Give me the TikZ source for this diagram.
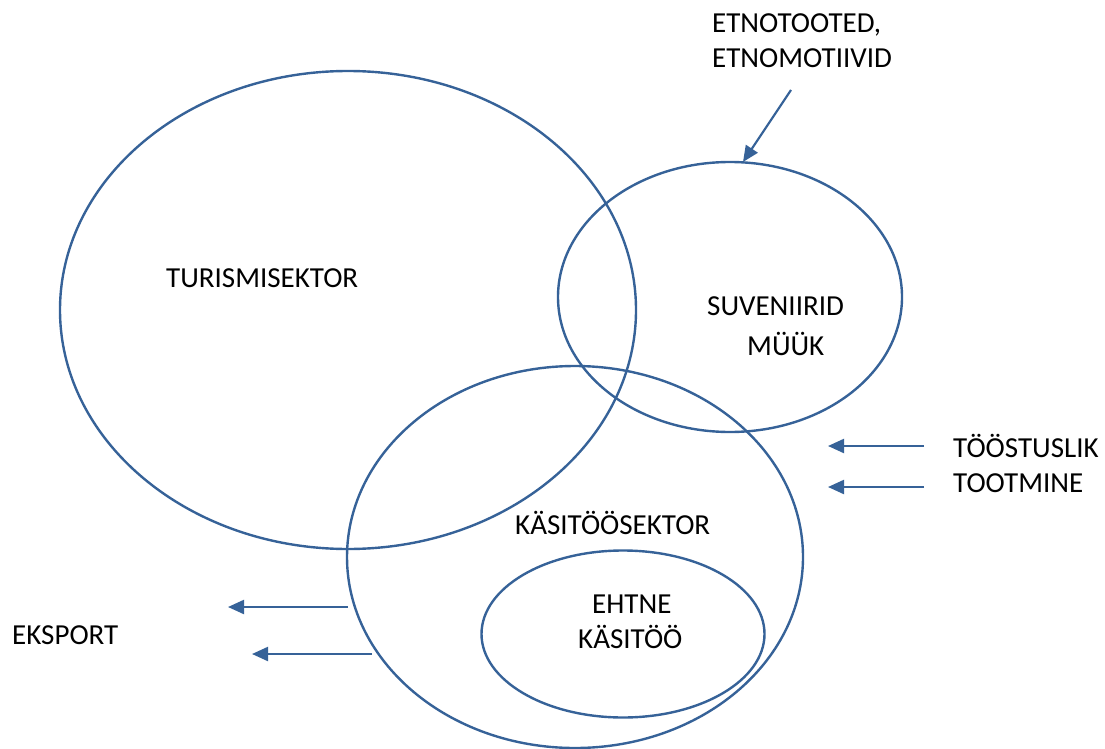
\documentclass[tikz,border=0pt]{standalone}
\usepackage{fontspec}
\setmainfont{Carlito}
\usetikzlibrary{shapes.geometric,arrows.meta}
\definecolor{lineblue}{RGB}{54,98,152}
\tikzset{
  venn/.style={ellipse, draw=lineblue, line width=2.4pt, inner sep=0pt},
  lbl/.style={anchor=base west, inner sep=0pt, font=\fontsize{29}{35}\selectfont, text=black},
  arr/.style={draw=lineblue, line width=2.2pt, -{Triangle[length=16pt,width=14pt]}}
}
\begin{document}
\begin{tikzpicture}[x=1pt,y=-1pt]
\useasboundingbox (0,0) rectangle (1105,749);
% ellipses
\node[venn, minimum width=576pt, minimum height=478pt] (tur) at (348,310) {};
\node[venn, minimum width=344pt, minimum height=270pt] (suv) at (730,297) {};
\node[venn, minimum width=456pt, minimum height=382pt] (kas) at (575,557) {};
\node[venn, minimum width=283pt, minimum height=167pt] (eht) at (623,634) {};
% labels
\node[lbl] (etno1) at (712,33) {ETNOTOOTED,};
\node[lbl] (etno2) at (712,68) {ETNOMOTIIVID};
\node[lbl] (turl) at (166,287) {TURISMISEKTOR};
\node[lbl] (suv1) at (707,315) {SUVENIIRID};
\node[lbl] (suv2) at (747,355) {MÜÜK};
\node[lbl] (too1) at (953,457) {TÖÖSTUSLIK};
\node[lbl] (too2) at (953,492) {TOOTMINE};
\node[lbl] (kasl) at (515,534) {KÄSITÖÖSEKTOR};
\node[lbl] (eht1) at (592,613) {EHTNE};
\node[lbl] (eht2) at (578,648) {KÄSITÖÖ};
\node[lbl] (eks) at (12,644) {EKSPORT};
% arrow coordinates
\coordinate (a1s) at (791,90);
\coordinate (a1e) at (743,162);
\coordinate (t1s) at (924,446);
\coordinate (t1e) at (828,446);
\coordinate (t2s) at (924,487);
\coordinate (t2e) at (828,487);
\coordinate (e1s) at (348,607);
\coordinate (e1e) at (228,607);
\coordinate (e2s) at (372,654);
\coordinate (e2e) at (252,654);
\draw[arr] (a1s) -- (a1e);
\draw[arr] (t1s) -- (t1e);
\draw[arr] (t2s) -- (t2e);
\draw[arr] (e1s) -- (e1e);
\draw[arr] (e2s) -- (e2e);
\end{tikzpicture}
\end{document}
